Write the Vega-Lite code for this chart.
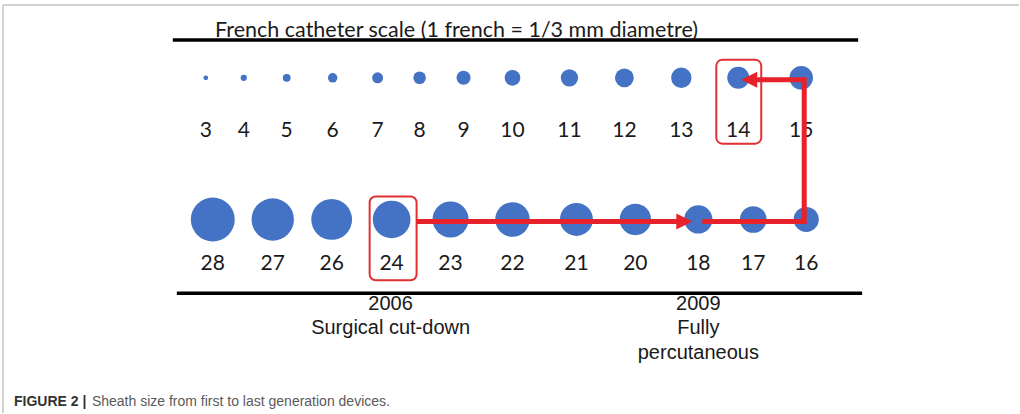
{
  "$schema": "https://vega.github.io/schema/vega-lite/v6.json",
  "width": 1020,
  "height": 414,
  "autosize": {"type": "fit", "contains": "padding"},
  "padding": 0,
  "background": "white",
  "config": {"view": {"stroke": null}},
  "datasets": {
    "circles": [
      {"french": 3, "x": 206, "y": 78, "ly": 137},
      {"french": 4, "x": 244, "y": 78, "ly": 137},
      {"french": 5, "x": 287, "y": 78, "ly": 137},
      {"french": 6, "x": 333, "y": 78, "ly": 137},
      {"french": 7, "x": 378, "y": 78, "ly": 137},
      {"french": 8, "x": 420, "y": 78, "ly": 137},
      {"french": 9, "x": 464, "y": 78, "ly": 137},
      {"french": 10, "x": 513, "y": 78, "ly": 137},
      {"french": 11, "x": 570, "y": 78, "ly": 137},
      {"french": 12, "x": 625, "y": 78, "ly": 137},
      {"french": 13, "x": 682, "y": 78, "ly": 137},
      {"french": 14, "x": 739, "y": 78, "ly": 137},
      {"french": 15, "x": 802, "y": 78, "ly": 137},
      {"french": 28, "x": 213, "y": 220, "ly": 271},
      {"french": 27, "x": 273, "y": 220, "ly": 271},
      {"french": 26, "x": 332, "y": 220, "ly": 271},
      {"french": 24, "x": 392, "y": 220, "ly": 271},
      {"french": 23, "x": 451, "y": 220, "ly": 271},
      {"french": 22, "x": 513, "y": 220, "ly": 271},
      {"french": 21, "x": 577, "y": 220, "ly": 271},
      {"french": 20, "x": 636, "y": 220, "ly": 271},
      {"french": 18, "x": 699, "y": 220, "ly": 271},
      {"french": 17, "x": 754, "y": 220, "ly": 271},
      {"french": 16, "x": 807, "y": 220, "ly": 271}
    ],
    "frame": [
      {"x": 3, "x2": 1020, "y": 5, "y2": 5},
      {"x": 3, "x2": 3, "y": 5, "y2": 414}
    ],
    "rules": [
      {"x": 173, "x2": 859, "y": 40, "y2": 40},
      {"x": 177, "x2": 863, "y": 294, "y2": 294}
    ],
    "boxes": [
      {"french": 14, "x": 717, "x2": 762, "y": 60, "y2": 144},
      {"french": 24, "x": 370, "x2": 417, "y": 197, "y2": 281}
    ],
    "arrows": [
      {"seg": "a", "i": 0, "x": 417, "y": 222},
      {"seg": "a", "i": 1, "x": 680, "y": 222},
      {"seg": "b", "i": 0, "x": 703, "y": 222},
      {"seg": "b", "i": 1, "x": 805, "y": 222},
      {"seg": "b", "i": 2, "x": 805, "y": 80},
      {"seg": "b", "i": 3, "x": 752, "y": 80}
    ],
    "heads": [
      {"dir": "right", "x": 685, "y": 222},
      {"dir": "left", "x": 750, "y": 80}
    ],
    "title": [
      {"text": "French catheter scale (1 french = 1/3 mm diametre)", "x": 457, "y": 37}
    ],
    "notes": [
      {"text": "2006", "x": 391, "y": 311},
      {"text": "Surgical cut-down", "x": 391, "y": 335},
      {"text": "2009", "x": 699, "y": 311},
      {"text": "Fully", "x": 699, "y": 335},
      {"text": "percutaneous", "x": 699, "y": 360}
    ],
    "capbold": [{"text": "FIGURE 2 |", "x": 14, "y": 407}],
    "caption": [{"text": "Sheath size from first to last generation devices.", "x": 92, "y": 407}]
  },
  "layer": [
    {
      "data": {"name": "frame"},
      "mark": {"type": "rule", "stroke": "#c4c4c4", "strokeWidth": 1.5},
      "encoding": {
        "x": {"field": "x", "type": "quantitative", "scale": {"domain": [0, 1020], "nice": false, "zero": false}, "axis": null},
        "x2": {"field": "x2"},
        "y": {"field": "y", "type": "quantitative", "scale": {"domain": [0, 414], "nice": false, "zero": false, "reverse": true}, "axis": null},
        "y2": {"field": "y2"}
      }
    },
    {
      "data": {"name": "rules"},
      "mark": {"type": "rule", "stroke": "#000000", "strokeWidth": 3.5},
      "encoding": {
        "x": {"field": "x", "type": "quantitative", "scale": {"domain": [0, 1020], "nice": false, "zero": false}, "axis": null},
        "x2": {"field": "x2"},
        "y": {"field": "y", "type": "quantitative", "scale": {"domain": [0, 414], "nice": false, "zero": false, "reverse": true}, "axis": null},
        "y2": {"field": "y2"}
      }
    },
    {
      "data": {"name": "circles"},
      "mark": {"type": "point", "shape": "circle", "filled": true, "opacity": 1, "color": "#4472c4"},
      "encoding": {
        "x": {"field": "x", "type": "quantitative", "scale": {"domain": [0, 1020], "nice": false, "zero": false}, "axis": null},
        "y": {"field": "y", "type": "quantitative", "scale": {"domain": [0, 414], "nice": false, "zero": false, "reverse": true}, "axis": null},
        "size": {"field": "french", "type": "quantitative", "scale": {"type": "pow", "exponent": 2, "domain": [0, 28], "range": [0, 1930]}, "legend": null}
      }
    },
    {
      "data": {"name": "circles"},
      "mark": {"type": "text", "font": "Lato", "fontSize": 21, "color": "#1a1a1a", "align": "center", "baseline": "alphabetic"},
      "encoding": {
        "x": {"field": "x", "type": "quantitative", "scale": {"domain": [0, 1020], "nice": false, "zero": false}, "axis": null},
        "y": {"field": "ly", "type": "quantitative", "scale": {"domain": [0, 414], "nice": false, "zero": false, "reverse": true}, "axis": null},
        "text": {"field": "french", "type": "quantitative"}
      }
    },
    {
      "data": {"name": "boxes"},
      "mark": {"type": "rect", "fill": "white", "fillOpacity": 0, "stroke": "#e03034", "strokeWidth": 2, "cornerRadius": 6},
      "encoding": {
        "x": {"field": "x", "type": "quantitative", "scale": {"domain": [0, 1020], "nice": false, "zero": false}, "axis": null},
        "x2": {"field": "x2"},
        "y": {"field": "y", "type": "quantitative", "scale": {"domain": [0, 414], "nice": false, "zero": false, "reverse": true}, "axis": null},
        "y2": {"field": "y2"}
      }
    },
    {
      "data": {"name": "arrows"},
      "mark": {"type": "line", "color": "#e8222a", "strokeWidth": 5, "strokeCap": "butt", "strokeJoin": "miter"},
      "encoding": {
        "x": {"field": "x", "type": "quantitative", "scale": {"domain": [0, 1020], "nice": false, "zero": false}, "axis": null},
        "y": {"field": "y", "type": "quantitative", "scale": {"domain": [0, 414], "nice": false, "zero": false, "reverse": true}, "axis": null},
        "detail": {"field": "seg", "type": "nominal"},
        "order": {"field": "i", "type": "quantitative"}
      }
    },
    {
      "data": {"name": "heads"},
      "mark": {"type": "point", "filled": true, "opacity": 1, "color": "#e8222a", "size": 256},
      "encoding": {
        "x": {"field": "x", "type": "quantitative", "scale": {"domain": [0, 1020], "nice": false, "zero": false}, "axis": null},
        "y": {"field": "y", "type": "quantitative", "scale": {"domain": [0, 414], "nice": false, "zero": false, "reverse": true}, "axis": null},
        "shape": {"field": "dir", "type": "nominal", "scale": {"domain": ["right", "left"], "range": ["M1,0L-1,-1L-1,1Z", "M-1,0L1,-1L1,1Z"]}, "legend": null}
      }
    },
    {
      "data": {"name": "title"},
      "mark": {"type": "text", "font": "Lato", "fontSize": 21.5, "color": "#1a1a1a", "align": "center", "baseline": "alphabetic"},
      "encoding": {
        "x": {"field": "x", "type": "quantitative", "scale": {"domain": [0, 1020], "nice": false, "zero": false}, "axis": null},
        "y": {"field": "y", "type": "quantitative", "scale": {"domain": [0, 414], "nice": false, "zero": false, "reverse": true}, "axis": null},
        "text": {"field": "text", "type": "nominal"}
      }
    },
    {
      "data": {"name": "notes"},
      "mark": {"type": "text", "font": "Liberation Sans", "fontSize": 20, "color": "#1a1a1a", "align": "center", "baseline": "alphabetic"},
      "encoding": {
        "x": {"field": "x", "type": "quantitative", "scale": {"domain": [0, 1020], "nice": false, "zero": false}, "axis": null},
        "y": {"field": "y", "type": "quantitative", "scale": {"domain": [0, 414], "nice": false, "zero": false, "reverse": true}, "axis": null},
        "text": {"field": "text", "type": "nominal"}
      }
    },
    {
      "data": {"name": "capbold"},
      "mark": {"type": "text", "font": "Liberation Sans", "fontSize": 14, "fontWeight": "bold", "color": "#333333", "align": "left", "baseline": "alphabetic"},
      "encoding": {
        "x": {"field": "x", "type": "quantitative", "scale": {"domain": [0, 1020], "nice": false, "zero": false}, "axis": null},
        "y": {"field": "y", "type": "quantitative", "scale": {"domain": [0, 414], "nice": false, "zero": false, "reverse": true}, "axis": null},
        "text": {"field": "text", "type": "nominal"}
      }
    },
    {
      "data": {"name": "caption"},
      "mark": {"type": "text", "font": "Liberation Sans", "fontSize": 14, "color": "#5a5a5a", "align": "left", "baseline": "alphabetic"},
      "encoding": {
        "x": {"field": "x", "type": "quantitative", "scale": {"domain": [0, 1020], "nice": false, "zero": false}, "axis": null},
        "y": {"field": "y", "type": "quantitative", "scale": {"domain": [0, 414], "nice": false, "zero": false, "reverse": true}, "axis": null},
        "text": {"field": "text", "type": "nominal"}
      }
    }
  ]
}
